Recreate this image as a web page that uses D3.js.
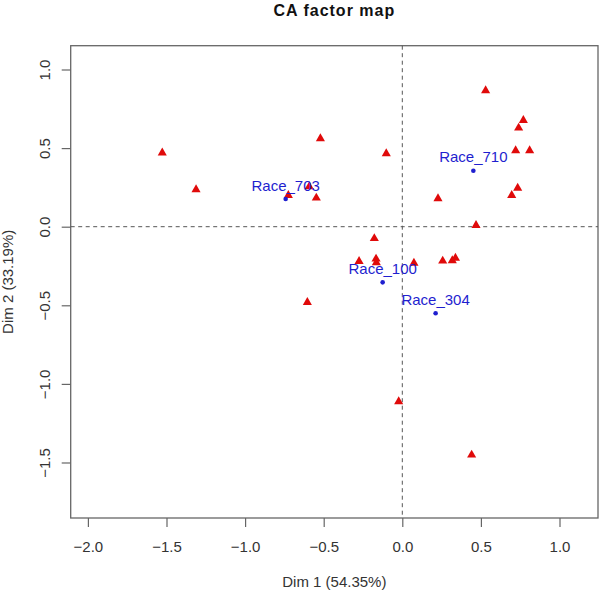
<!DOCTYPE html>
<html>
<head>
<meta charset="utf-8">
<script src="https://cdn.jsdelivr.net/npm/d3@7"></script>
<style>
  html, body { margin: 0; padding: 0; background: #fff; }
  svg { display: block; }
  text { font-family: "Liberation Sans", Arial, sans-serif; }
</style>
</head>
<body>
<svg id="chart" width="600" height="591"></svg>
<script>
// ---- data ----
const chartTitle = "CA factor map";
const xTitle = "Dim 1 (54.35%)";
const yTitle = "Dim 2 (33.19%)";

// column points (red triangles)
const colX = [-1.527, -1.312, -0.725, 0.530, 0.770, 0.740, -0.521, -0.102, 0.721, 0.810,
              -0.592, -0.547, 0.227, 0.734, 0.696, 0.469, -0.178, -0.275, -0.167, -0.165,
              0.074, 0.257, 0.318, 0.338, -0.604, -0.023, 0.441];
const colY = [0.470, 0.236, 0.200, 0.866, 0.677, 0.628, 0.561, 0.465, 0.484, 0.484,
              0.255, 0.183, 0.179, 0.246, 0.200, 0.009, -0.075, -0.220, -0.205, -0.228,
              -0.231, -0.218, -0.215, -0.200, -0.481, -1.112, -1.452];

// row points (blue dots with labels)
const rowLabels = ["Race_703", "Race_710", "Race_100", "Race_304"];
const rowX = [-0.742, 0.452, -0.125, 0.212];
const rowY = [0.176, 0.356, -0.354, -0.551];

const xTicks = [-2.0, -1.5, -1.0, -0.5, 0.0, 0.5, 1.0];
const yTicks = [-1.5, -1.0, -0.5, 0.0, 0.5, 1.0];
const xDomain = [-2.1094, 1.2449];
const yDomain = [-1.8531, 1.1514];

// ---- layout ----
const plot = { left: 70.7, right: 598, top: 45.7, bottom: 518 };
const svg = d3.select("#chart");
const x = d3.scaleLinear().domain(xDomain).range([plot.left, plot.right]);
const y = d3.scaleLinear().domain(yDomain).range([plot.bottom, plot.top]);
const fmt = d3.format(".1f");

const red = "#e00a0a", blue = "#1f1fcf", axisCol = "#666";

// title
svg.append("text")
  .attr("x", (plot.left + plot.right) / 2).attr("y", 16)
  .attr("text-anchor", "middle")
  .style("font-size", "16px").style("font-weight", "bold")
  .style("letter-spacing", "1px")
  .attr("fill", "#111")
  .text(chartTitle);

// x axis
const xAxis = svg.append("g")
  .attr("transform", `translate(0,${plot.bottom})`)
  .call(d3.axisBottom(x).tickValues(xTicks).tickFormat(fmt).tickSize(9).tickPadding(14).tickSizeOuter(0));
xAxis.select(".domain").remove();
xAxis.selectAll(".tick line").attr("stroke", axisCol).attr("stroke-width", 1.2);
xAxis.selectAll(".tick text")
  .style("font-size", "15px").attr("fill", "#333")
  .attr("dy", null).attr("y", 34);

// y axis
const yAxis = svg.append("g")
  .attr("transform", `translate(${plot.left},0)`)
  .call(d3.axisLeft(y).tickValues(yTicks).tickFormat(fmt).tickSize(9).tickSizeOuter(0));
yAxis.select(".domain").remove();
yAxis.selectAll(".tick line").attr("stroke", axisCol).attr("stroke-width", 1.2);
yAxis.selectAll(".tick text")
  .style("font-size", "15px").attr("fill", "#333")
  .attr("x", null).attr("dy", null)
  .attr("text-anchor", "middle")
  .attr("transform", "translate(-20.7,0) rotate(-90)");

// box
svg.append("rect")
  .attr("x", plot.left).attr("y", plot.top)
  .attr("width", plot.right - plot.left).attr("height", plot.bottom - plot.top)
  .attr("fill", "none").attr("stroke", axisCol).attr("stroke-width", 1.3);

// dashed zero lines
svg.append("line")
  .attr("x1", plot.left).attr("x2", plot.right)
  .attr("y1", y(0)).attr("y2", y(0))
  .attr("stroke", "#555").attr("stroke-width", 1).attr("stroke-dasharray", "4,3.5");
svg.append("line")
  .attr("x1", x(0)).attr("x2", x(0))
  .attr("y1", plot.top).attr("y2", plot.bottom)
  .attr("stroke", "#555").attr("stroke-width", 1).attr("stroke-dasharray", "4,3.5");

// axis titles
svg.append("text")
  .attr("x", (plot.left + plot.right) / 2).attr("y", 586.5)
  .attr("text-anchor", "middle")
  .style("font-size", "15px").attr("fill", "#333")
  .text(xTitle);
svg.append("text")
  .attr("transform", `translate(12.5,${(plot.top + plot.bottom) / 2}) rotate(-90)`)
  .attr("text-anchor", "middle")
  .style("font-size", "15px").attr("fill", "#333")
  .text(yTitle);

// column points
const cols = colX.map((v, i) => ({ x: v, y: colY[i] }));
const tri = d3.symbol().type(d3.symbolTriangle).size(36);
svg.append("g").selectAll("path").data(cols).join("path")
  .attr("d", tri)
  .attr("transform", d => `translate(${x(d.x)},${y(d.y)})`)
  .attr("fill", red);

// row points
const rows = rowLabels.map((l, i) => ({ label: l, x: rowX[i], y: rowY[i] }));
svg.append("g").selectAll("circle").data(rows).join("circle")
  .attr("cx", d => x(d.x)).attr("cy", d => y(d.y)).attr("r", 2.3)
  .attr("fill", blue);
svg.append("g").selectAll("text").data(rows).join("text")
  .attr("x", d => x(d.x)).attr("y", d => y(d.y) - 8.5)
  .attr("text-anchor", "middle")
  .style("font-size", "15px").attr("fill", blue)
  .text(d => d.label);
</script>
</body>
</html>
